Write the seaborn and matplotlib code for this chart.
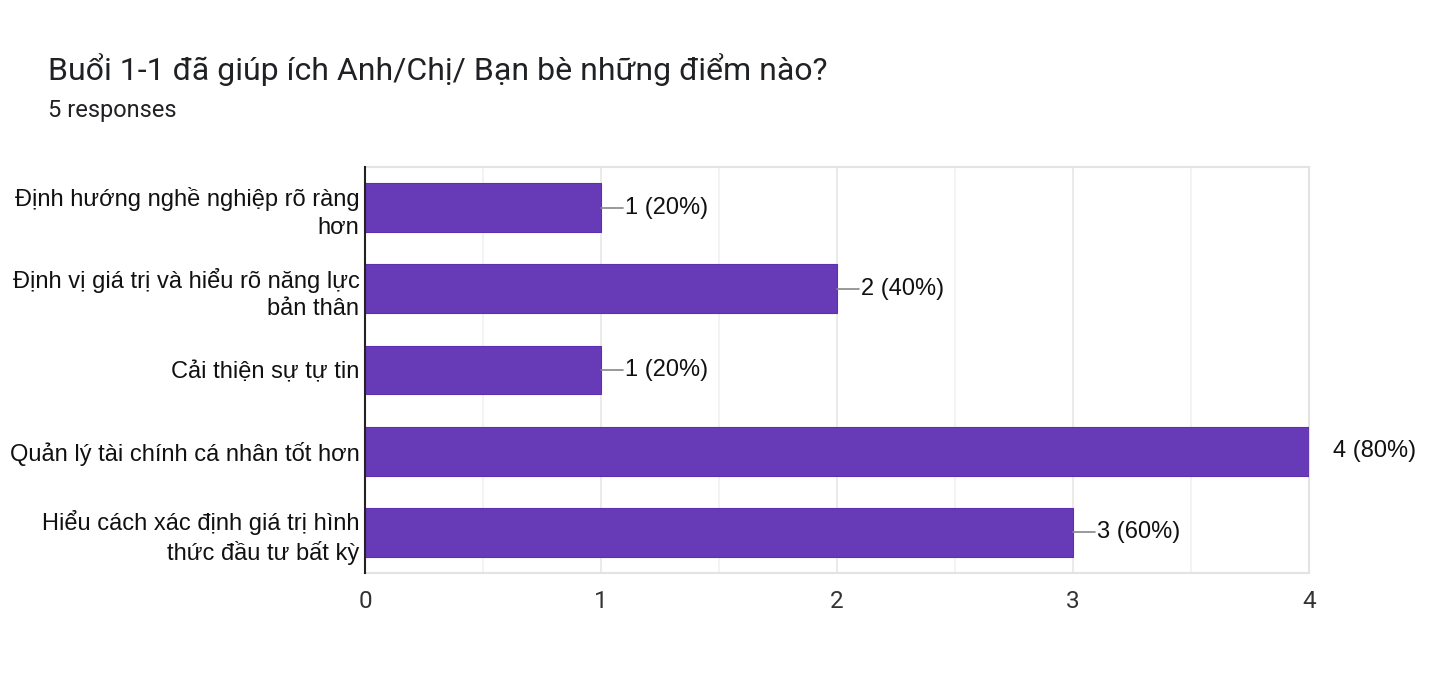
import matplotlib
matplotlib.use("Agg")
import matplotlib.pyplot as plt
import seaborn as sns
import pandas as pd

categories = [
    "Định hướng nghề nghiệp rõ ràng hơn",
    "Định vị giá trị và hiểu rõ năng lực bản thân",
    "Cải thiện sự tự tin",
    "Quản lý tài chính cá nhân tốt hơn",
    "Hiểu cách xác định giá trị hình thức đầu tư bất kỳ",
]
tick_labels = [
    "Định hướng nghề nghiệp rõ ràng\nhơn",
    "Định vị giá trị và hiểu rõ năng lực\nbản thân",
    "Cải thiện sự tự tin",
    "Quản lý tài chính cá nhân tốt hơn",
    "Hiểu cách xác định giá trị hình\nthức đầu tư bất kỳ",
]
counts = [1, 2, 1, 4, 3]
percents = [20, 40, 20, 80, 60]
x_ticks = [0, 1, 2, 3, 4]
title = "Buổi 1-1 đã giúp ích Anh/Chị/ Bạn bè những điểm nào?"
subtitle = "5 responses"

df = pd.DataFrame({"cat": categories, "count": counts})

sns.set_theme(style="white")
plt.rcParams["font.family"] = ["Liberation Sans", "DejaVu Sans"]

fig = plt.figure(figsize=(14.56, 6.92), dpi=100)
ax = fig.add_axes([365 / 1456, 1 - 573 / 692, 944 / 1456, 406 / 692])

sns.barplot(data=df, x="count", y="cat", orient="h", color="#673ab7",
            width=0.6, edgecolor="#5e2fb0", linewidth=0.8, ax=ax, zorder=3)
for p in ax.patches:
    p.set_facecolor("#673ab7")

ax.set_xlim(0, 4)
ax.set_ylim(4.5, -0.5)
ax.set_xticks(x_ticks)
ax.set_xticklabels([str(t) for t in x_ticks], fontsize=17.5, color="#333333",
                   family=["Roboto", "DejaVu Sans"])
ax.set_yticks(range(len(categories)))
ax.set_yticklabels(tick_labels, fontsize=17, color="#111111", linespacing=1.32)
ax.tick_params(axis="x", length=0, pad=12)
ax.tick_params(axis="y", length=0, pad=4)
ax.set_xlabel("")
ax.set_ylabel("")

# gridlines
for gx in [0.5, 1, 1.5, 2, 2.5, 3, 3.5]:
    ax.axvline(gx, color="#f1f1f1" if gx % 1 else "#e6e6e6", lw=1.2, zorder=1)

for side in ["top", "right", "bottom"]:
    ax.spines[side].set_color("#e3e3e3")
    ax.spines[side].set_linewidth(1.5)
ax.spines["left"].set_color("#222222")
ax.spines["left"].set_linewidth(1.5)
ax.spines["left"].set_zorder(5)

# value labels with leader lines
px = 4 / 944.0
for i, (c, pc) in enumerate(zip(counts, percents)):
    if c < 4:
        ax.plot([c, c + 22 * px], [i, i], color="#888888", lw=1.2, zorder=4,
                clip_on=False)
    ax.text(c + 24 * px, i, f"{c} ({pc}%)", va="center", ha="left",
            fontsize=17, color="#111111")

fig.text(48 / 1456, 1 - 70 / 692, title, fontsize=23, color="#202124",
         va="center", ha="left", family=["Roboto", "DejaVu Sans"])
fig.text(48 / 1456, 1 - 111 / 692, subtitle, fontsize=17, color="#202124",
         va="center", ha="left", family=["Roboto", "DejaVu Sans"])

fig.savefig("out.png", dpi=100, facecolor="white")
